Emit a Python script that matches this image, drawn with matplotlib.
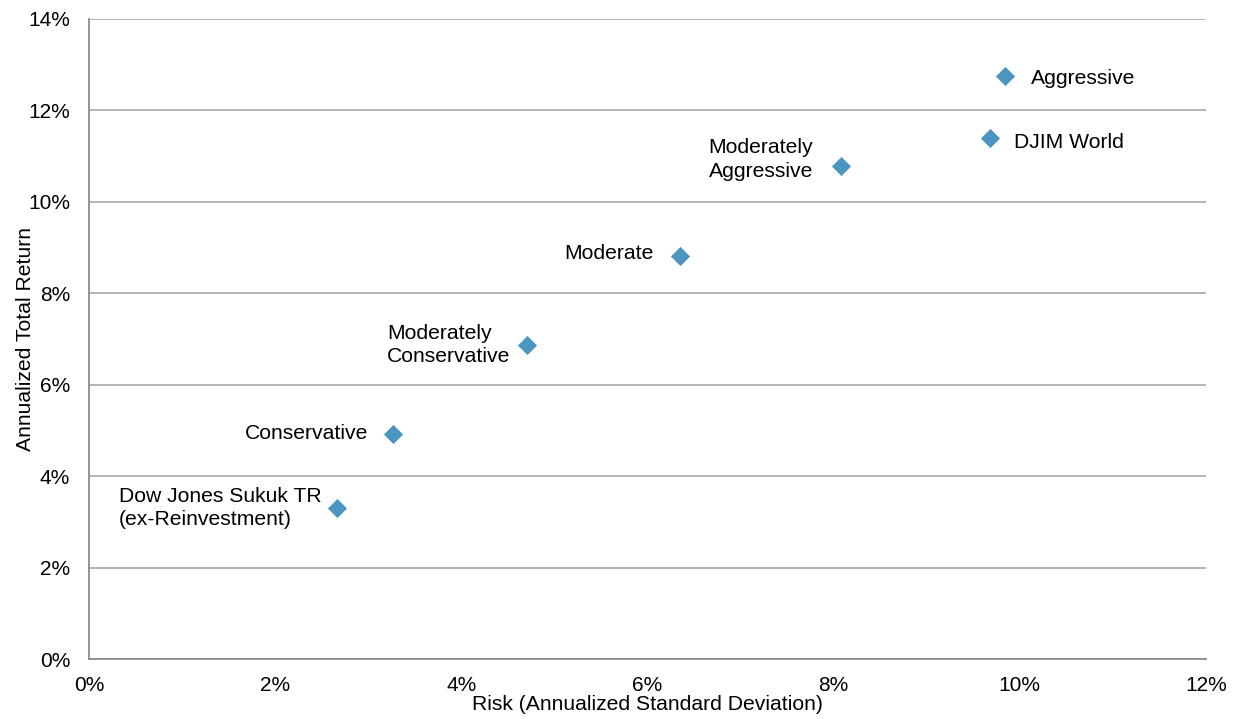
import matplotlib.pyplot as plt
from matplotlib.ticker import FuncFormatter

plt.rcParams['font.family'] = ['Liberation Sans', 'DejaVu Sans']

# risk / return of each portfolio (percent)
names = ["Aggressive", "DJIM World", "Moderately\nAggressive", "Moderate",
         "Moderately\nConservative", "Conservative",
         "Dow Jones Sukuk TR\n(ex-Reinvestment)"]
risk = [9.84, 9.68, 8.08, 6.35, 4.71, 3.27, 2.66]
ret = [12.75, 11.40, 10.79, 8.82, 6.87, 4.92, 3.30]

# label placement: (dx, dy) in points, horizontal alignment
offsets = [(19, -1.5, "left"), (17, -3, "left"), (-20, 4.5, "right"),
           (-19, 2, "right"), (-12, 0, "right"), (-18, 0.5, "right"),
           (-11, 0, "right")]

FS = 15.2

fig = plt.figure(figsize=(12.41, 7.19), dpi=100)
ax = fig.add_axes([0.0717, 0.0834, 0.9001, 0.8902])

ax.scatter(risk, ret, marker="D", s=95, color="#4a96c0", zorder=3,
           linewidths=0)

for n, x, y, (dx, dy, ha) in zip(names, risk, ret, offsets):
    ax.annotate(n, (x, y), xytext=(dx, dy), textcoords="offset points",
                ha=ha, va="center", multialignment="left", fontsize=FS,
                color="#000000", linespacing=1.3)

ax.set_xlim(0, 12)
ax.set_ylim(0, 14)
ax.set_xticks(range(0, 13, 2))
ax.set_yticks(range(0, 15, 2))
pct = FuncFormatter(lambda v, p: f"{v:.0f}%")
ax.xaxis.set_major_formatter(pct)
ax.yaxis.set_major_formatter(pct)
ax.tick_params(length=0, labelsize=15)
ax.tick_params(axis="x", pad=12)
ax.tick_params(axis="y", pad=13.5)

ax.grid(axis="y", color="#a0a0a0", linewidth=1.1)
ax.set_axisbelow(True)
for s in ["top", "right"]:
    ax.spines[s].set_visible(False)
for s in ["left", "bottom"]:
    ax.spines[s].set_color("#8c8c8c")
    ax.spines[s].set_linewidth(1.3)

ax.set_xlabel("Risk (Annualized Standard Deviation)", fontsize=FS,
              labelpad=0.5)
ax.set_ylabel("Annualized Total Return", fontsize=FS, labelpad=-5)

fig.savefig("out.png", dpi=100)
